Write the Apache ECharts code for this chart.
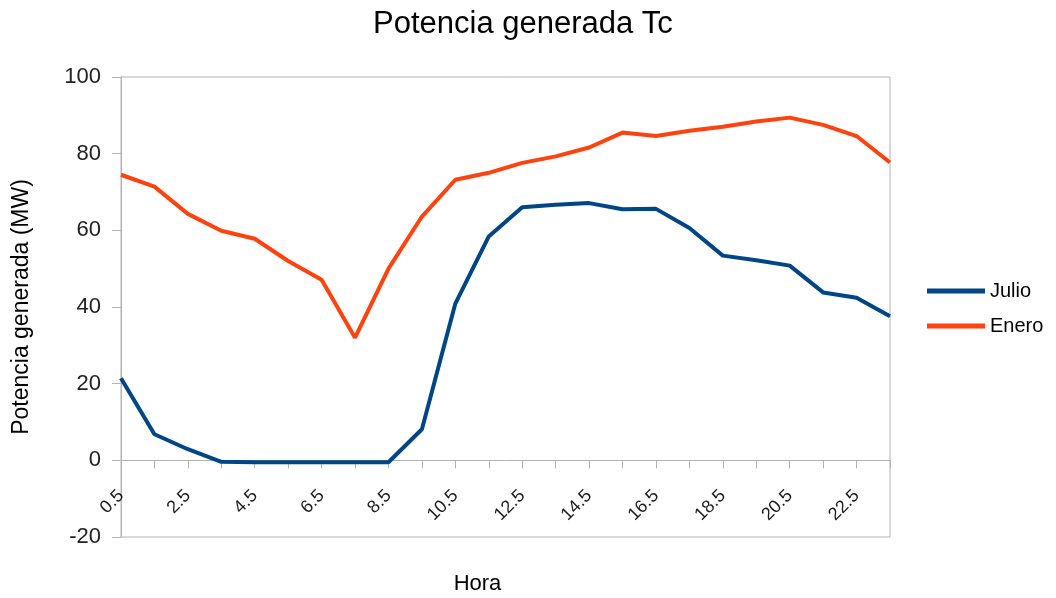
<!DOCTYPE html>
<html>
<head>
<meta charset="utf-8">
<script src="https://cdn.jsdelivr.net/npm/echarts@6/dist/echarts.min.js"></script>
<style>
  html, body { margin: 0; padding: 0; background: #fff; }
  #chart { width: 1056px; height: 598px; }
</style>
</head>
<body>
<div id="chart"></div>
<script>
// hour of day (category axis)
const horas = ['0.5', '1.5', '2.5', '3.5', '4.5', '5.5', '6.5', '7.5', '8.5', '9.5', '10.5', '11.5',
  '12.5', '13.5', '14.5', '15.5', '16.5', '17.5', '18.5', '19.5', '20.5', '21.5', '22.5', '23.5'];

// generated power in MW
const julio = [21.4, 6.8, 2.9, -0.4, -0.5, -0.5, -0.5, -0.5, -0.5, 8.1, 40.9, 58.4,
  66.0, 66.7, 67.1, 65.5, 65.6, 60.6, 53.4, 52.2, 50.8, 43.8, 42.4, 37.6];
const enero = [74.5, 71.4, 64.3, 59.9, 57.8, 52.0, 47.1, 32.0, 50.0, 63.6, 73.2, 75.0,
  77.6, 79.3, 81.6, 85.5, 84.6, 86.0, 87.0, 88.4, 89.4, 87.5, 84.6, 77.7];

const font = '"Liberation Sans", Arial, sans-serif';
const chart = echarts.init(document.getElementById('chart'));

chart.setOption({
  animation: false,
  textStyle: { fontFamily: font },
  title: {
    text: 'Potencia generada Tc',
    left: 368,
    top: 4,
    textStyle: { fontSize: 31, fontWeight: 'normal', color: '#000', fontFamily: font }
  },
  legend: {
    orient: 'vertical',
    left: 922,
    top: 276,
    itemWidth: 58,
    itemHeight: 5,
    itemGap: 15,
    icon: 'rect',
    textStyle: { fontSize: 20, color: '#000', fontFamily: font }
  },
  grid: {
    left: 121,
    right: 166,
    top: 77,
    bottom: 61,
    containLabel: false,
    outerBoundsMode: 'none',
    show: true,
    borderColor: '#b3b3b3',
    borderWidth: 1
  },
  xAxis: {
    type: 'category',
    data: horas,
    boundaryGap: false,
    name: 'Hora',
    nameLocation: 'middle',
    nameGap: 36,
    nameMoveOverlap: false,
    nameTextStyle: { fontSize: 22, color: '#000', padding: [0, 56, 0, 0] },
    axisLine: { onZero: true, lineStyle: { color: '#b3b3b3' } },
    axisTick: { interval: 0, length: 8, lineStyle: { color: '#b3b3b3' } },
    axisLabel: { interval: 1, rotate: 45, fontSize: 18, color: '#1a1a1a', margin: -44 },
    splitLine: { show: false }
  },
  yAxis: {
    type: 'value',
    min: -20,
    max: 100,
    interval: 20,
    name: 'Potencia generada (MW)',
    nameLocation: 'middle',
    nameGap: 88,
    nameTextStyle: { fontSize: 23, color: '#000' },
    axisLine: { show: true, lineStyle: { color: '#b3b3b3' } },
    axisTick: { show: true, length: 9, lineStyle: { color: '#b3b3b3' } },
    axisLabel: { fontSize: 22, color: '#222', margin: 20 },
    splitLine: { show: false }
  },
  series: [
    {
      name: 'Julio',
      type: 'line',
      data: julio,
      symbol: 'none',
      color: '#004586',
      lineStyle: { width: 4, color: '#004586' }
    },
    {
      name: 'Enero',
      type: 'line',
      data: enero,
      symbol: 'none',
      color: '#ff420e',
      lineStyle: { width: 4, color: '#ff420e' }
    }
  ]
});
</script>
</body>
</html>
